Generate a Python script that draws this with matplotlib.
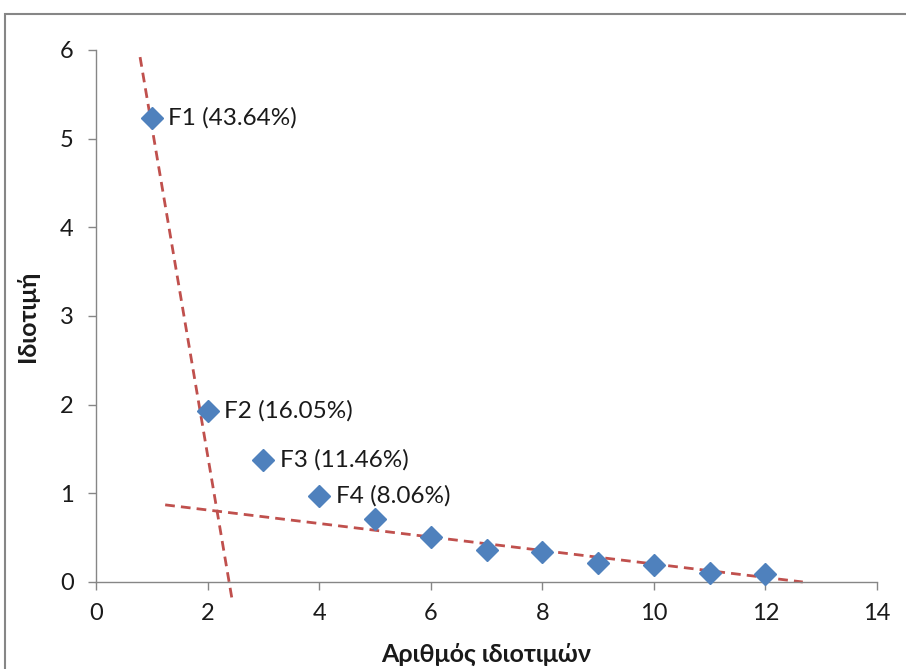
import matplotlib
matplotlib.use("Agg")
import matplotlib.pyplot as plt
from matplotlib.patches import Rectangle

x_vals = [1, 2, 3, 4, 5, 6, 7, 8, 9, 10, 11, 12]
eigen = [5.237, 1.926, 1.375, 0.967, 0.71, 0.51, 0.36, 0.34, 0.21, 0.19, 0.10, 0.09]
labels = ["F1 (43.64%)", "F2 (16.05%)", "F3 (11.46%)", "F4 (8.06%)"]
steep_x = [0.79, 2.44]
steep_y = [5.92, -0.20]
flat_x = [1.24, 12.67]
flat_y = [0.87, 0.0]
x_ticks = [0, 2, 4, 6, 8, 10, 12, 14]
y_ticks = [0, 1, 2, 3, 4, 5, 6]

plt.rcParams['font.family'] = ['Lato', 'DejaVu Sans']

fig = plt.figure(figsize=(9.06, 6.69), dpi=100)
fig.patches.append(Rectangle((5/906, -0.1), 1.2, 1 - 14/669 + 0.1, transform=fig.transFigure,
                             fill=False, edgecolor='#868686', linewidth=1.5))
ax = fig.add_axes([96/906, 1 - 582/669, (877-96)/906, (582-50)/669])

gray = '#868686'
for s in ['top', 'right']:
    ax.spines[s].set_visible(False)
for s in ['left', 'bottom']:
    ax.spines[s].set_color(gray)
    ax.spines[s].set_linewidth(1.0)

ax.plot(steep_x, steep_y, linestyle=(0, (3.5, 2.2)), color='#C0504D', linewidth=2.0, clip_on=False, zorder=2)
ax.plot(flat_x, flat_y, linestyle=(0, (3.5, 2.2)), color='#C0504D', linewidth=2.0, clip_on=False, zorder=2)
ax.plot(x_vals, eigen, linestyle='none', marker='D', markersize=11.5, color='#4F81BD',
        markeredgecolor='#4F81BD', clip_on=False, zorder=3)

for i, lab in enumerate(labels):
    ax.annotate(lab, (x_vals[i], eigen[i]), xytext=(12, 0), textcoords='offset points',
                va='center', ha='left', fontsize=17.5, color='#1a1a1a')

ax.set_xlim(0, 14)
ax.set_ylim(0, 6)
ax.set_xticks(x_ticks)
ax.set_yticks(y_ticks)
ax.tick_params(axis='both', colors=gray, labelcolor='#1a1a1a', labelsize=17, length=6, width=1)
ax.tick_params(axis='x', pad=9)
ax.tick_params(axis='y', pad=10)
ax.set_xlabel('Αριθμός ιδιοτιμών', fontsize=18, fontweight='bold', color='#1a1a1a', labelpad=14)
ax.set_ylabel('Ιδιοτιμή', fontsize=18, fontweight='bold', color='#1a1a1a', labelpad=15)

fig.savefig('out.png', dpi=100)
